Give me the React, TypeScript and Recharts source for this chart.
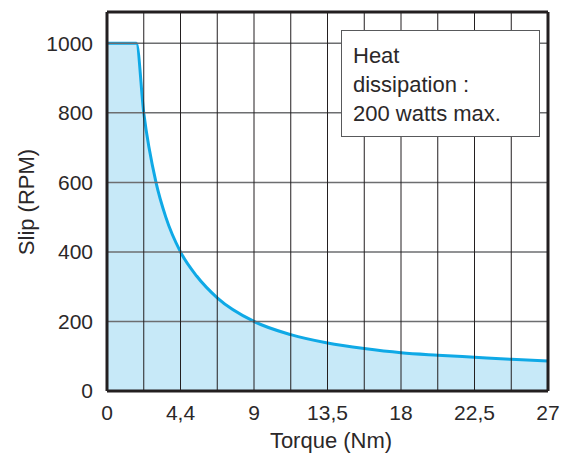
import React from 'react';
import {
  ComposedChart,
  Area,
  XAxis,
  YAxis,
  ReferenceLine,
  Label,
} from 'recharts';

// torque (Nm) vs slip (RPM)
const torque = [0, 1.8, 2.25, 3.0, 3.6, 4.5, 5.5, 6.75, 9, 11.25, 13.5, 15.75, 18, 20.25, 22.5, 24.75, 27];
const slip = [1000, 1000, 800, 600, 500, 400, 330, 268, 200, 162, 138, 122, 110, 103, 97, 91, 86];

const xTicks = [0, 4.5, 9, 13.5, 18, 22.5, 27];
const xTickLabels = ['0', '4,4', '9', '13,5', '18', '22,5', '27'];
const yTicks = [0, 200, 400, 600, 800, 1000];
const gridX = [2.25, 4.5, 6.75, 9, 11.25, 13.5, 15.75, 18, 20.25, 22.5, 24.75];
const gridY = [200, 400, 600, 800, 1000];
const noteLines = ['Heat', 'dissipation :', '200 watts max.'];

const data = torque.map((t, i) => ({ torque: t, slip: slip[i] }));

const FONT = '"Liberation Sans", Arial, Helvetica, sans-serif';
const TEXT = '#2b2829';
const Y_MAX = 1090;

export default function App() {
  return (
    <div style={{ position: 'relative', width: 574, height: 457, fontFamily: FONT }}>
      <style>{`body{margin:0}`}</style>
      <ComposedChart
        width={574}
        height={457}
        data={data}
        margin={{ top: 12, right: 26, left: 0, bottom: 0 }}
      >
        <XAxis
          dataKey="torque"
          type="number"
          domain={[0, 27]}
          ticks={xTicks}
          tickFormatter={(v: number) => xTickLabels[xTicks.indexOf(v)] ?? String(v)}
          tickLine={false}
          tickMargin={8}
          height={66}
          axisLine={{ stroke: '#231f20', strokeWidth: 3 }}
          tick={{ fill: TEXT, fontSize: 21, fontFamily: FONT }}
          allowDataOverflow
        >
          <Label
            content={() => (
              <text x={331} y={448} textAnchor="middle" fill={TEXT} fontSize={22} fontFamily={FONT}>
                Torque (Nm)
              </text>
            )}
          />
        </XAxis>
        <YAxis
          type="number"
          domain={[0, Y_MAX]}
          ticks={yTicks}
          tickLine={false}
          tickMargin={8}
          width={107}
          axisLine={{ stroke: '#231f20', strokeWidth: 3 }}
          tick={{ fill: TEXT, fontSize: 21, fontFamily: FONT }}
          allowDataOverflow
        >
          <Label
            content={() => (
              <text
                x={34}
                y={202}
                transform="rotate(-90 34 202)"
                textAnchor="middle"
                fill={TEXT}
                fontSize={22}
                fontFamily={FONT}
              >
                Slip (RPM)
              </text>
            )}
          />
        </YAxis>
        <Area
          type="monotone"
          dataKey="slip"
          stroke="#0fa9e6"
          strokeWidth={3}
          fill="#c7e9f8"
          fillOpacity={1}
          isAnimationActive={false}
          dot={false}
          activeDot={false}
        />
        {gridY.map((v) => (
          <ReferenceLine key={'gy' + v} y={v} stroke="#6d6e70" strokeWidth={1.5} />
        ))}
        {gridX.map((v) => (
          <ReferenceLine key={'gx' + v} x={v} stroke="#231f20" strokeWidth={1} />
        ))}
        <ReferenceLine y={Y_MAX} stroke="#231f20" strokeWidth={3} />
        <ReferenceLine x={27} stroke="#231f20" strokeWidth={3} />
      </ComposedChart>
      <div
        style={{
          position: 'absolute',
          left: 341,
          top: 30,
          width: 199,
          height: 107,
          boxSizing: 'border-box',
          border: '1px solid #58595b',
          background: '#fff',
          padding: '10px 0 0 11px',
          fontSize: 22,
          lineHeight: '29px',
          color: TEXT,
        }}
      >
        {noteLines.map((l) => (
          <div key={l}>{l}</div>
        ))}
      </div>
    </div>
  );
}
